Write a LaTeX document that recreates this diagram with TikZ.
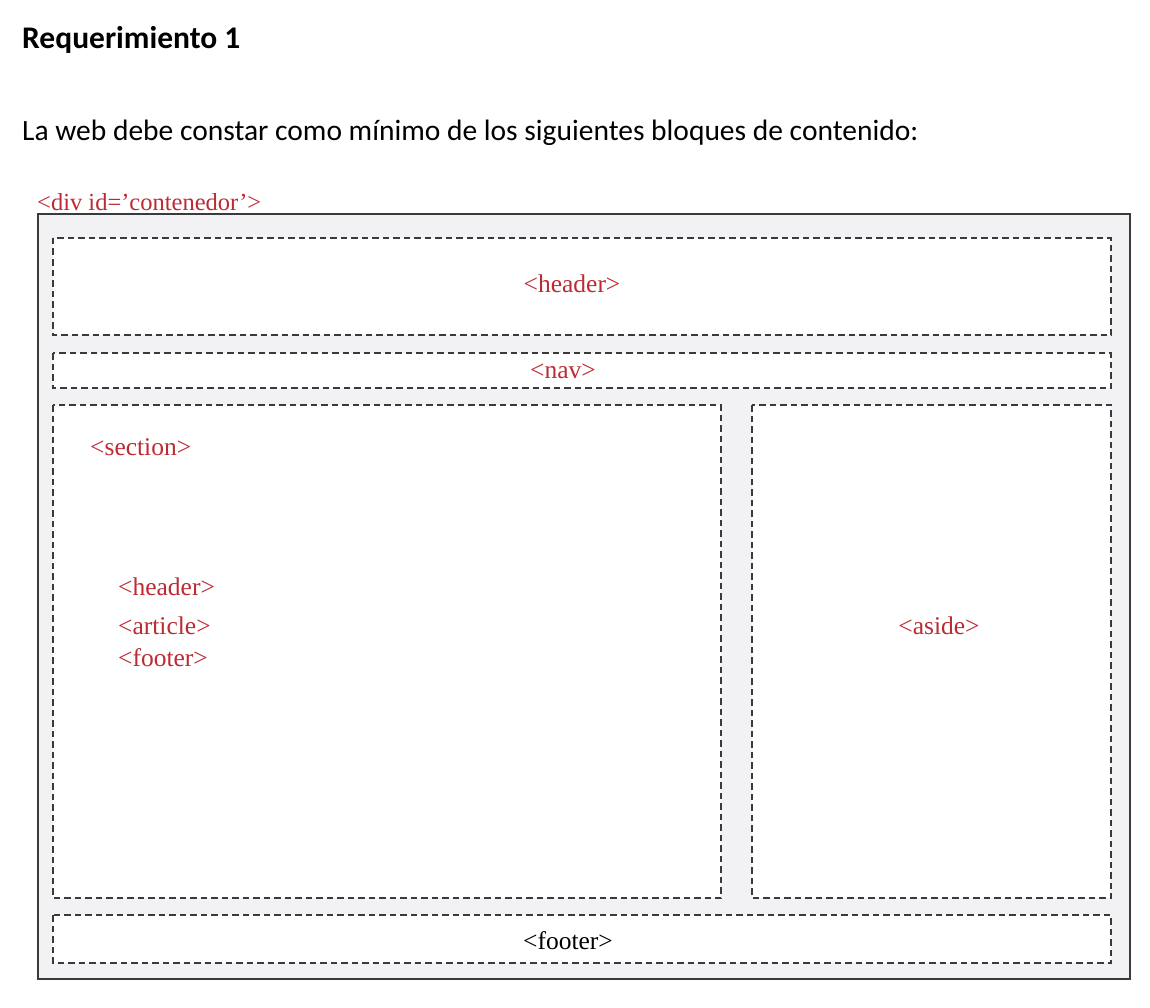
\documentclass[tikz,border=0pt]{standalone}
\usepackage{fontspec}
\setmainfont{Liberation Serif}
\newfontfamily\calib{Carlito}
\definecolor{tagred}{HTML}{BE2A33}
\definecolor{boxgray}{HTML}{F2F1F4}
\definecolor{linegray}{HTML}{3A3A3A}
\begin{document}
\begin{tikzpicture}[x=1pt,y=-1pt,
  blockbox/.style={draw=linegray,line width=2pt,dash pattern=on 6.5pt off 4pt,fill=white},
  tag/.style={text=tagred,font=\fontsize{25.5}{28}\selectfont,inner sep=0pt},
  heading/.style={font=\calib\fontsize{29.5}{34}\selectfont,inner sep=0pt,anchor=base west}]
\useasboundingbox (0,0) rectangle (1150,1008);
\fill[white] (0,0) rectangle (1150,1008);
\node[heading,font=\calib\bfseries\fontsize{31.5}{36}\selectfont] (title) at (22,49) {Requerimiento 1};
\node[heading] (intro) at (22,141) {La web debe constar como mínimo de los siguientes bloques de contenido:};
\node[tag,anchor=base west,font=\fontsize{24.5}{28}\selectfont] (div) at (37,211) {<div id=’contenedor’>};
\draw[draw=linegray,line width=2pt,fill=boxgray] (38,214) rectangle (1130,979);
\draw[blockbox] (53,238) rectangle (1111,335);
\draw[blockbox] (53,353) rectangle (1111,388);
\draw[blockbox] (53,405) rectangle (721,898);
\draw[blockbox] (752,405) rectangle (1111,898);
\draw[blockbox] (53,915) rectangle (1111,963);
\node[tag] (t1) at (572,284) {<header>};
\node[tag] (t2) at (563,371) {<nav>};
\node[tag,anchor=west] (t3) at (90,447) {<section>};
\node[tag,anchor=west] (t4) at (118,587) {<header>};
\node[tag,anchor=west] (t5) at (118,626) {<article>};
\node[tag,anchor=west] (t6) at (118,658) {<footer>};
\node[tag] (t7) at (939,626) {<aside>};
\node[tag,text=black] (t8) at (568,941) {<footer>};
\end{tikzpicture}
\end{document}
